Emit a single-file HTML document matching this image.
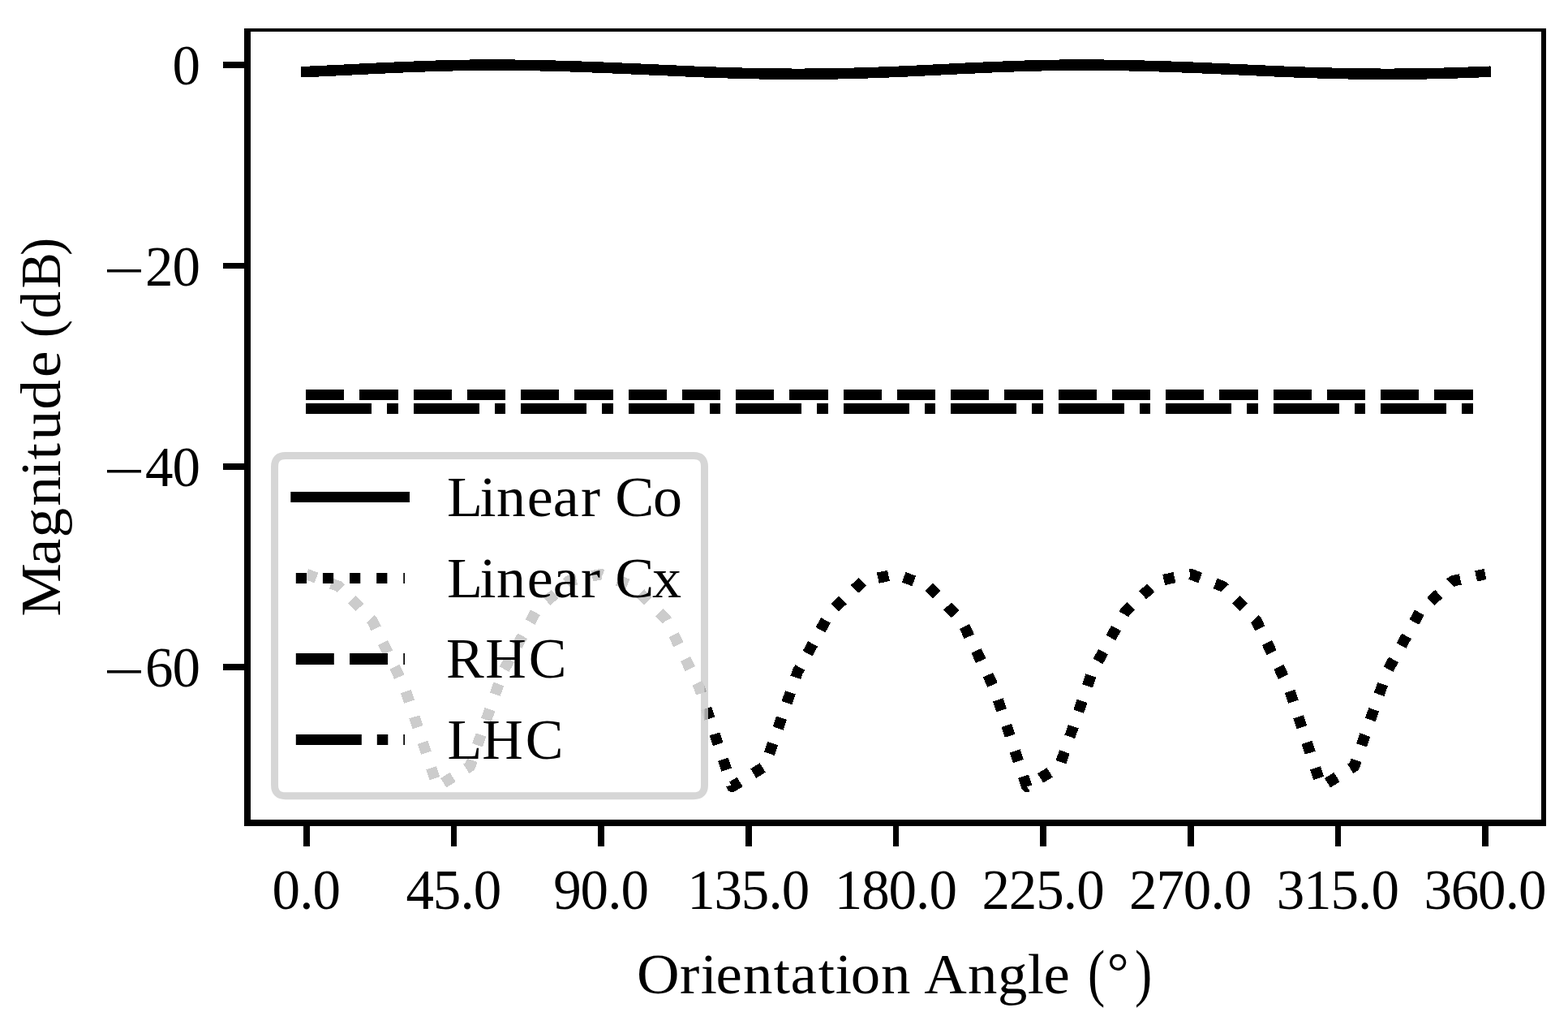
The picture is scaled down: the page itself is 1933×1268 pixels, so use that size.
<!DOCTYPE html>
<html lang="en"><head><meta charset="utf-8"><title>Magnitude vs Orientation Angle</title>
<style>html,body{margin:0;padding:0;background:#fff;overflow:hidden;}svg{display:block;}text{font-family:"Liberation Serif",serif;fill:#000;white-space:pre;}</style>
</head><body>
<svg width="1933" height="1268" viewBox="0 0 1933 1268">
<rect width="1933" height="1268" fill="#fff"/>
<g fill="none" stroke="#000" stroke-width="13" shape-rendering="crispEdges">
<path d="M377.8,88.45 L418.17,86.54 L458.53,84.5 L498.9,82.66 L539.27,81.17 L579.63,80.26 L620,80.05 L660.37,80.62 L700.73,81.68 L741.1,83.13 L781.47,84.89 L821.83,86.72 L862.2,88.55 L902.57,89.95 L942.93,90.93 L983.3,91.33 L1023.67,90.97 L1064.03,90 L1104.4,88.45 L1144.77,86.54 L1185.13,84.5 L1225.5,82.66 L1265.87,81.17 L1306.23,80.26 L1346.6,80.05 L1386.97,80.62 L1427.33,81.68 L1467.7,83.13 L1508.07,84.89 L1548.43,86.72 L1588.8,88.55 L1629.17,89.95 L1669.53,90.93 L1709.9,91.33 L1750.27,90.97 L1790.63,90 L1831,88.45" stroke-width="13.5" stroke-linecap="square" stroke-linejoin="round"/>
<path d="M377.8,707.5 L418.17,722.8 L458.53,764.2 L498.9,847.75 L539.27,969.4 L579.63,944.25 L620,827.7 L660.37,754 L700.73,716 L741.1,707.5 L781.47,722.8 L821.83,764.2 L862.2,847.75 L902.57,969.4 L942.93,944.25 L983.3,827.7 L1023.67,754 L1064.03,716 L1104.4,707.5 L1144.77,722.8 L1185.13,764.2 L1225.5,847.75 L1265.87,969.4 L1306.23,944.25 L1346.6,827.7 L1386.97,754 L1427.33,716 L1467.7,707.5 L1508.07,722.8 L1548.43,764.2 L1588.8,847.75 L1629.17,969.4 L1669.53,944.25 L1709.9,827.7 L1750.27,754 L1790.63,716 L1831,707.5" stroke-width="13.5" stroke-dasharray="13.5 19.625" stroke-dashoffset="0.5" stroke-linejoin="round"/>
<path d="M377.1,486.5 L1831,486.5" stroke-dasharray="47.25 19"/>
<path d="M377.1,503.5 L1831,503.5" stroke-dasharray="81 19 13.5 19"/>
</g>
<g fill="#000" shape-rendering="crispEdges">
<rect x="301" y="35" width="8" height="983"/>
<rect x="301" y="1010" width="1605" height="8"/>
<rect x="301" y="35" width="1605" height="4"/>
<rect x="1900" y="35" width="6" height="983"/>
<rect x="374" y="1018" width="8" height="25"/>
<rect x="556" y="1018" width="7" height="25"/>
<rect x="737" y="1018" width="8" height="25"/>
<rect x="919" y="1018" width="8" height="25"/>
<rect x="1101" y="1018" width="7" height="25"/>
<rect x="1282" y="1018" width="8" height="25"/>
<rect x="1464" y="1018" width="8" height="25"/>
<rect x="1646" y="1018" width="7" height="25"/>
<rect x="1827" y="1018" width="8" height="25"/>
<rect x="275" y="76" width="26" height="8"/>
<rect x="275" y="324" width="26" height="7"/>
<rect x="275" y="571" width="26" height="8"/>
<rect x="275" y="818" width="26" height="8"/>
</g>
<g font-size="69">
<text x="335.55 369.17 385.55" y="1120.3">0.0</text>
<text x="500.53 533.87 567.49 583.87" y="1120.3">45.0</text>
<text x="682.18 715.52 749.14 765.52" y="1120.3">90.0</text>
<text x="847.17 880.5 913.83 947.46 963.83" y="1120.3">135.0</text>
<text x="1028.82 1062.15 1095.48 1129.11 1145.48" y="1120.3">180.0</text>
<text x="1210.47 1243.8 1277.13 1310.76 1327.13" y="1120.3">225.0</text>
<text x="1392.12 1425.45 1458.78 1492.41 1508.78" y="1120.3">270.0</text>
<text x="1573.77 1607.1 1640.43 1674.06 1690.43" y="1120.3">315.0</text>
<text x="1755.42 1788.75 1822.08 1855.71 1872.08" y="1120.3">360.0</text>
<text x="212.38" y="104.4">0</text>
<text><tspan x="127.5" y="356.74" font-size="70" textLength="50.9" lengthAdjust="spacingAndGlyphs">−</tspan><tspan x="179.05 212.38" y="351.7">20</tspan></text>
<text><tspan x="127.5" y="604.04" font-size="70" textLength="50.9" lengthAdjust="spacingAndGlyphs">−</tspan><tspan x="179.05 212.38" y="599">40</tspan></text>
<text><tspan x="127.5" y="851.34" font-size="70" textLength="50.9" lengthAdjust="spacingAndGlyphs">−</tspan><tspan x="179.05 212.38" y="846.3">60</tspan></text>
</g>
<g font-size="70">
<text x="754.87 805.88 830.54 848.59 880.78 916.97 937.03 969.9 990.06 1008.46 1044.2 1079.2 1095.46 1147.18 1182.62 1218.16 1237.1" y="1223.8" transform="scale(1.04,1)">Orientation Angle</text>
</g>
<text font-size="77.2"><tspan x="1340.99" y="1225.36" textLength="21.26" lengthAdjust="spacingAndGlyphs">(</tspan><tspan x="1364.74" y="1221.26" font-size="67">°</tspan><tspan x="1398.94" y="1225.36" textLength="21.26" lengthAdjust="spacingAndGlyphs">)</tspan></text>
<text font-size="70" transform="translate(74,757) rotate(-90) scale(1.05,1)" x="-2.39 57.62 90 126.8 161.64 181.38 204.4 240.23 278.03" y="0">Magnitude</text>
<text font-size="70" transform="translate(74,757) rotate(-90) scale(0.95,1)" x="358.78 383.77 422.51 465.39" y="0">(dB)</text>
<path d="M351.85,561.5 L855.2,561.5 Q868.5,561.5 868.5,574.8 L868.5,967.4 Q868.5,980.7 855.2,980.7 L351.85,980.7 Q338.55,980.7 338.55,967.4 L338.55,574.8 Q338.55,561.5 351.85,561.5 Z" fill="#fff" fill-opacity="0.8" stroke="#ccc" stroke-opacity="0.8" stroke-width="9"/>
<g fill="none" stroke="#000" stroke-width="13">
<path d="M364.8,612.5 L498.5,612.5" stroke-linecap="square"/>
<path d="M364.8,712.5 L499,712.5" stroke-dasharray="13.2 19.925"/>
<path d="M364.8,812 L499,812" stroke-width="14" stroke-dasharray="47 19.25"/>
<path d="M364.8,911.5 L499,911.5" stroke-dasharray="81 19 13.5 19"/>
</g>
<g font-size="70">
<text x="534.96 574.38 594.12 630.82 661.87 695.23 718.54 736.08 781.53" y="636.3" transform="scale(1.03,1)">Linear Co</text>
<text x="534.96 574.38 594.12 630.82 661.87 695.23 718.54 736.08 780.58" y="735.8" transform="scale(1.03,1)">Linear Cx</text>
<text x="550.1 598.34 651.65" y="835.2">RHC</text>
<text x="551.61 594.24 647.65" y="934.9">LHC</text>
</g>
</svg>
</body></html>
